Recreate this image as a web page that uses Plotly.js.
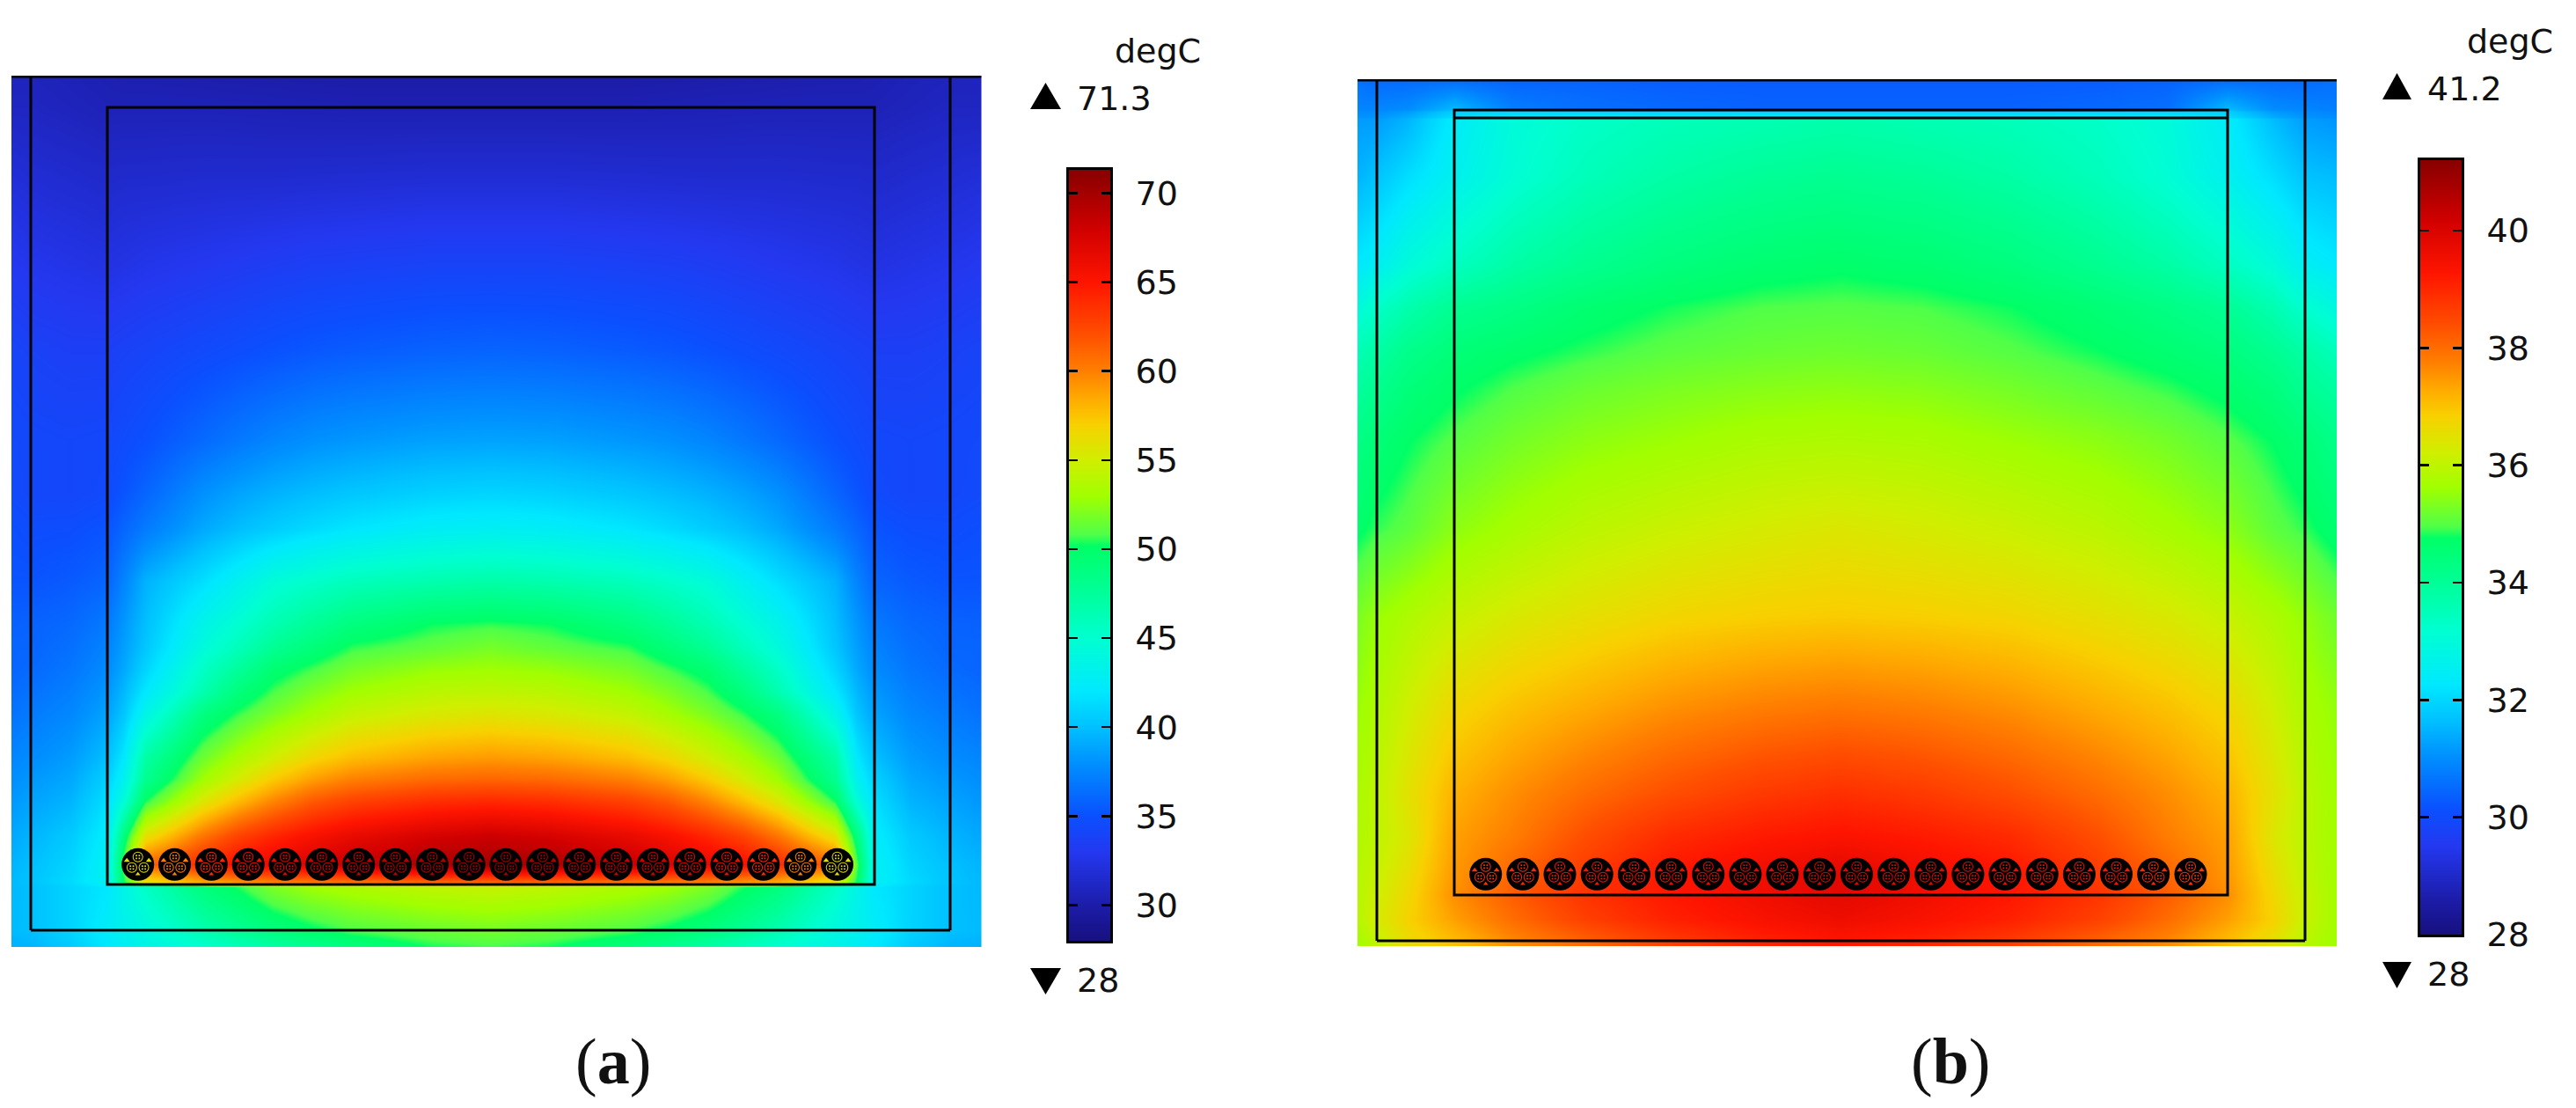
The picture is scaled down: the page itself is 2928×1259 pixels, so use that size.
<!DOCTYPE html>
<html><head><meta charset="utf-8">
<script src="https://cdn.plot.ly/plotly-3.0.1.min.js"></script>
<style>html,body{margin:0;padding:0;background:#fff}</style>
</head><body><div id="plot" style="width:2928px;height:1259px"></div>
<script>
// ---------- colour map (shared by both panels) ----------
const stopFractions = [0,.046,.115,.162,.231,.277,.323,.393,.462,.513,.527,.577,.624,.670,.704,.739,.785,.854,.924,1];
const stopColors = ['#17107f','#1c1ca8','#2438f0','#0a50ff','#0090ff','#00c0ff','#00e8ff','#00ffd0','#00ff90','#00ff66',
  '#50ff48','#a0ff00','#d0ee00','#f8d000','#ffaa00','#ff8000','#ff5000','#ff1500','#d00000','#880000'];

// ---------- panel (a): temperature field, degC ----------
const xA = [13,35,80,122,140,165,230,270,310,355,400,490,557,624,714,759,804,844,884,949,974,994,1034,1080,1115];
const yA = [86,122,200,300,400,500,560,600,660,710,735,760,785,810,860,885,910,950,982,1002,1008,1057,1076];
const tempA = [
[30.8,30.8,30.6,30.4,30.3,30.3,30.2,30.15,30.1,30.05,30,30,30,30,30,30.05,30.1,30.15,30.2,30.3,30.3,30.4,30.6,30.8,30.8],
[31,31,30.8,30.6,30.6,30.6,30.6,30.55,30.5,30.45,30.4,30.4,30.4,30.4,30.4,30.45,30.5,30.55,30.6,30.6,30.6,30.6,30.8,31,31],
[32,31.8,31.6,31.4,31.5,31.5,31.6,31.6,31.6,31.65,31.7,31.8,31.8,31.8,31.7,31.65,31.6,31.6,31.6,31.5,31.5,31.4,31.6,31.8,32],
[33,32.8,32.6,32.4,32.5,32.7,33,33.2,33.4,33.6,33.7,33.9,33.9,33.9,33.7,33.6,33.4,33.2,33,32.7,32.5,32.4,32.6,32.8,33],
[34,33.8,33.6,33.6,33.8,34,34.5,34.8,35.1,35.4,35.6,35.9,36,35.9,35.6,35.4,35.1,34.8,34.5,34,33.8,33.6,33.6,33.8,34],
[34.4,34.3,34.2,34.3,34.6,35,36.2,36.9,37.5,38,38.3,38.7,38.8,38.7,38.3,38,37.5,36.9,36.2,35,34.6,34.3,34.2,34.3,34.4],
[34.5,34.3,34.2,34.5,35.2,36,38,38.8,39.4,39.9,40.3,40.8,41,40.8,40.3,39.9,39.4,38.8,38,36,35.2,34.5,34.2,34.3,34.5],
[34.9,34.7,34.8,35.2,36,37,39,39.9,40.6,41.3,41.9,42.6,42.8,42.6,41.9,41.3,40.6,39.9,39,37,36,35.2,34.8,34.7,34.9],
[35.2,35.2,35.5,36,37.4,39.4,41.5,43,44.5,45.3,46,46.6,46.9,46.6,46,45.3,44.5,43,41.5,39.4,37.4,36,35.5,35.2,35.2],
[35.8,35.9,36.2,37,38.3,40,43.5,45,46.5,47.8,49,50.3,50.6,50.3,49,47.8,46.5,45,43.5,40,38.3,37,36.2,35.9,35.8],
[36,36,36.5,37.4,38.6,40.3,44.3,46,47.8,49.2,50.5,51.2,51.8,51.2,50.5,49.2,47.8,46,44.3,40.3,38.6,37.4,36.5,36,36],
[36,36.2,36.8,37.8,39,41,45.5,47.5,49.6,50.7,51.8,52.7,53,52.7,51.8,50.7,49.6,47.5,45.5,41,39,37.8,36.8,36.2,36],
[36.3,36.6,37.2,38.3,39.6,42,46.5,49,50.7,52,53,54,54.2,54,53,52,50.7,49,46.5,42,39.6,38.3,37.2,36.6,36.3],
[36.6,37,37.6,38.8,40.2,43.5,48.8,50.5,51.9,53.2,54.4,55.3,55.6,55.3,54.4,53.2,51.9,50.5,48.8,43.5,40.2,38.8,37.6,37,36.6],
[37.5,37.8,38.5,40,42,47,51.5,53.4,55,56.6,57.7,58.7,59,58.7,57.7,56.6,55,53.4,51.5,47,42,40,38.5,37.8,37.5],
[37.9,38.3,39,40.8,43,48,53,55.2,57.2,58.9,60,60.9,61.1,60.9,60,58.9,57.2,55.2,53,48,43,40.8,39,38.3,37.9],
[38.3,38.8,39.5,41.5,44.5,50.3,55.5,57.8,59.8,61.6,62.7,63.7,64,63.7,62.7,61.6,59.8,57.8,55.5,50.3,44.5,41.5,39.5,38.8,38.3],
[39,39.5,40.5,42.5,49,56,60.5,62.7,64.2,65.5,66.5,67.7,68.2,67.7,66.5,65.5,64.2,62.7,60.5,56,49,42.5,40.5,39.5,39],
[39.5,40,41,43,51,61,64,65.5,66.5,67.5,68.5,69.7,70,69.7,68.5,67.5,66.5,65.5,64,61,51,43,41,40,39.5],
[39.7,40.2,41.3,43,50,56,58.5,59.3,60,60.3,60.5,61,61,61,60.5,60.3,60,59.3,58.5,56,50,43,41.3,40.2,39.7],
[39.7,40,41,42,43.5,45.5,49,50.4,52,53,53.5,54.2,54.5,54.2,53.5,53,52,50.4,49,45.5,43.5,42,41,40,39.7],
[39.8,40,41,42.5,43.2,44,46.5,47.8,49,50,50.8,51.5,51.8,51.5,50.8,50,49,47.8,46.5,44,43.2,42.5,41,40,39.8],
[39.3,39.5,40.5,42,42.7,43.5,45,46,47,48,49,50.3,50.7,50.3,49,48,47,46,45,43.5,42.7,42,40.5,39.5,39.3]
];
const cableXA = [156.7,198.5,240.3,282.2,324,365.8,407.7,449.5,491.3,533.2,575,616.8,658.7,700.5,742.3,784.2,826,867.8,909.7,951.5];
const cableTempA = [56,60,64,66,67,68,68.5,69,69.5,70,70,69.5,69,68.5,68,67,66,64,60,56];

// ---------- panel (b): temperature field, degC ----------
const xB = [1543,1564,1600,1653,1720,1800,1900,2000,2092,2184,2284,2384,2464,2532,2584,2620,2656];
const yB = [90,124,127,133,135,200,300,350,400,440,500,600,700,800,900,950,993,1017,1045,1075];
const tempB = [
[30.6,30.5,30.5,30.5,30.4,30.4,30.3,30.3,30.3,30.3,30.3,30.3,30.4,30.5,30.5,30.5,30.6],
[30.9,30.9,31.0,31.6,30.8,30.6,30.5,30.4,30.4,30.4,30.4,30.5,30.6,31.6,31.0,30.9,30.8],
[31.0,31.0,31.2,31.9,32.0,32.0,32.0,32.0,32.0,32.0,32.0,32.0,32.0,31.9,31.2,31.0,30.9],
[31.1,31.1,31.4,32.1,32.3,32.3,32.3,32.3,32.3,32.3,32.3,32.3,32.3,32.1,31.4,31.1,31.0],
[31.2,31.2,31.5,32.4,33.0,33.3,33.5,33.6,33.7,33.6,33.5,33.3,33.0,32.4,31.6,31.2,31.1],
[31.5,31.7,32.1,32.6,33.1,33.5,33.8,34.0,34.1,34.0,33.8,33.5,33.1,32.6,32.1,31.7,31.6],
[32.3,32.5,33.0,33.4,33.8,34.1,34.4,34.6,34.7,34.6,34.4,34.1,33.8,33.4,33.0,32.5,32.3],
[33.0,33.3,33.7,34.1,34.3,34.6,34.82,34.96,35.0,34.95,34.8,34.55,34.3,34.05,33.65,33.2,32.9],
[33.6,33.8,34.2,34.5,34.7,34.87,35.05,35.15,35.2,35.15,35.0,34.8,34.6,34.4,34.1,33.8,33.5],
[33.9,34.1,34.45,34.72,34.95,35.15,35.3,35.4,35.45,35.4,35.25,35.05,34.87,34.65,34.4,34.05,33.85],
[34.3,34.5,34.75,35.0,35.25,35.45,35.6,35.75,35.8,35.75,35.6,35.45,35.25,35.0,34.75,34.5,34.2],
[34.7,34.87,35.05,35.45,35.7,35.95,36.15,36.3,36.4,36.3,36.15,35.95,35.7,35.45,35.05,34.87,34.6],
[35.3,35.55,35.8,36.1,36.35,36.55,36.75,36.85,36.9,36.85,36.75,36.55,36.35,36.1,35.8,35.5,35.2],
[35.55,35.8,36.2,36.7,37.0,37.25,37.55,37.75,37.85,37.75,37.55,37.25,37.0,36.7,36.2,35.75,35.5],
[35.75,36.0,36.5,37.2,37.6,38.0,38.4,38.7,38.85,38.7,38.4,38.0,37.6,37.2,36.5,35.95,35.6],
[35.8,36.0,36.4,37.4,37.8,38.4,38.95,39.2,39.35,39.2,38.95,38.4,37.8,37.4,36.4,35.95,35.65],
[35.9,36.1,36.6,37.5,38.1,38.7,39.3,39.6,39.85,39.6,39.3,38.7,38.1,37.5,36.6,36.0,35.65],
[35.9,36.2,36.7,37.6,38.2,38.8,39.25,39.55,39.8,39.55,39.25,38.8,38.2,37.6,36.7,36.1,35.65],
[35.9,36.3,36.8,37.4,38.0,38.6,39.1,39.4,39.6,39.4,39.1,38.6,38.0,37.4,36.8,36.1,35.65],
[35.6,36.0,36.6,37.0,37.6,38.0,38.6,39.0,39.2,39.0,38.6,38.0,37.6,37.0,36.5,35.9,35.6]
];
const cableXB = [1688.7,1730.9,1773,1815.2,1857.4,1899.5,1941.7,1983.9,2026,2068.2,2110.4,2152.5,2194.7,2236.9,2279,2321.2,2363.4,2405.5,2447.7,2490];
const cableTempB = [38.8,39,39.3,39.4,39.5,39.6,39.7,39.8,39.8,39.9,39.9,39.8,39.8,39.7,39.6,39.5,39.4,39.3,39,38.8];

// ---------- scale labels ----------
const ticksA = [30,35,40,45,50,55,60,65,70];
const ticksB = [28,30,32,34,36,38,40];
const unitLabel = 'degC';
const rangeA = [28,71.3];
const rangeB = [28,41.2];
const panelLabels = ['a','b'];

// ---------- helpers ----------
const W=2928,H=1259;
const px = v => v/W, py = v => 1-v/H;
const scale = stopFractions.map((f,i)=>[f,stopColors[i]]);
const FONT='DejaVu Sans';

function field(x,y,z,rng,xa,ya){
  return {type:'heatmap',x:x,y:y,z:z,zmin:rng[0],zmax:rng[1],colorscale:scale,zsmooth:'best',showscale:false,xaxis:xa,yaxis:ya,hoverinfo:'skip'};
}
function ramp(rng,xa,ya){
  const lv = stopFractions.map(f=>rng[0]+f*(rng[1]-rng[0]));
  return {type:'heatmap',x:[0,1],y:lv,z:lv.map(v=>[v,v]),zmin:rng[0],zmax:rng[1],colorscale:scale,zsmooth:'best',showscale:false,xaxis:xa,yaxis:ya,hoverinfo:'skip'};
}
function cables(cx,cy,temps,rng,xa,ya){
  const rep=(offs)=>{const X=[],Y=[],C=[];cx.forEach((x,i)=>offs.forEach(o=>{X.push(x+o[0]);Y.push(cy+o[1]);C.push(temps[i]);}));return {X,Y,C};};
  const base={type:'scatter',mode:'markers',xaxis:xa,yaxis:ya,hoverinfo:'skip',showlegend:false,cliponaxis:false};
  const cm=(c,o)=>Object.assign({color:c,cmin:rng[0],cmax:rng[1],colorscale:scale},o);
  const cores=[[0,-8.5],[-6.8,3.5],[6.8,3.5]];
  const r=rep(cores), wl=rep([[-12.5,-4.5]]), wr=rep([[12.5,-4.5]]), wb=rep([[0,11]]);
  return [
    Object.assign({},base,{x:cx,y:cx.map(()=>cy),marker:{symbol:'circle',size:37,color:'#000',line:{width:0}}}),
    Object.assign({},base,{x:r.X,y:r.Y,marker:cm(r.C,{symbol:'circle',size:12})}),
    Object.assign({},base,{x:r.X,y:r.Y,marker:{symbol:'circle',size:10,color:'#000'}}),
    Object.assign({},base,{x:r.X,y:r.Y,marker:cm(r.C,{symbol:'square',size:5})}),
    Object.assign({},base,{x:r.X,y:r.Y,marker:{symbol:'cross-thin',size:6,line:{width:1.6,color:'#000'}}}),
    Object.assign({},base,{x:wl.X,y:wl.Y,marker:cm(wl.C,{symbol:'triangle-up',size:6})}),
    Object.assign({},base,{x:wr.X,y:wr.Y,marker:cm(wr.C,{symbol:'triangle-up',size:6})}),
    Object.assign({},base,{x:wb.X,y:wb.Y,marker:cm(wb.C,{symbol:'triangle-up',size:5})})
  ];
}
function hidden(dom,rng,anchor){return {domain:dom,range:rng,visible:false,fixedrange:true,anchor:anchor};}
function barX(dom,anchor){return {domain:dom,range:[0,1],showgrid:false,zeroline:false,showticklabels:false,ticks:'',showline:true,mirror:true,linewidth:3,linecolor:'#000',anchor:anchor};}
function barY(dom,rng,ticks,anchor,standoff){return {domain:dom,range:rng,side:'right',anchor:anchor,tickmode:'array',tickvals:ticks,ticktext:ticks.map(String),
  ticks:'inside',ticklen:10,tickwidth:2.5,tickcolor:'#000',mirror:'ticks',showline:true,linewidth:3,linecolor:'#000',showgrid:false,zeroline:false,
  tickfont:{family:FONT,size:38,color:'#111'},ticklabelstandoff:standoff};}

const rect=(xr,yr,x0,y0,x1,y1,w)=>({type:'rect',xref:xr,yref:yr,x0,y0,x1,y1,line:{color:'#000',width:w||3},fillcolor:'rgba(0,0,0,0)',layer:'above'});
const segment=(xr,yr,x0,y0,x1,y1)=>({type:'line',xref:xr,yref:yr,x0,y0,x1,y1,line:{color:'#000',width:3},layer:'above'});
const tri=(xl,xr,ya,yb)=>{const xm=(xl+xr)/2;return {type:'path',xref:'paper',yref:'paper',fillcolor:'#000',line:{width:0},
  path:`M ${px(xl)} ${py(yb)} L ${px(xr)} ${py(yb)} L ${px(xm)} ${py(ya)} Z`};};
const label=(text,x,y,size,fam,anchor)=>({text,xref:'paper',yref:'paper',x:px(x),y:py(y),xanchor:anchor||'left',yanchor:'middle',showarrow:false,
  font:{family:fam||FONT,size:size||38,color:'#111'}});

const data=[
  field(xA,yA,tempA,rangeA,'x','y'),
  ...cables(cableXA,982.3,cableTempA,rangeA,'x','y'),
  field(xB,yB,tempB,rangeB,'x2','y2'),
  ...cables(cableXB,993.3,cableTempB,rangeB,'x2','y2'),
  ramp(rangeA,'x3','y3'),
  ramp(rangeB,'x4','y4')
];
const layout={
  width:W,height:H,margin:{l:0,r:0,t:0,b:0},paper_bgcolor:'#fff',plot_bgcolor:'#fff',showlegend:false,
  xaxis:hidden([px(13),px(1115.5)],[13,1115.5],'y'),
  yaxis:hidden([py(1076),py(86)],[1076,86],'x'),
  xaxis2:hidden([px(1543),px(2656)],[1543,2656],'y2'),
  yaxis2:hidden([py(1075),py(90)],[1075,90],'x2'),
  xaxis3:barX([px(1215),px(1262)],'y3'),
  yaxis3:barY([py(1069),py(193)],rangeA,ticksA,'x3',18),
  xaxis4:barX([px(2751),px(2798)],'y4'),
  yaxis4:barY([py(1062),py(182)],rangeB,ticksB,'x4',18),
  shapes:[
    rect('x','y',122,122,994,1005),
    segment('x','y',13,87,1115.5,87),
    segment('x','y',35,87,35,1057),
    segment('x','y',35,1057,1080,1057),
    segment('x','y',1080,87,1080,1057),
    rect('x2','y2',1653,125,2532,1017),
    segment('x2','y2',1653,134,2532,134),
    segment('x2','y2',1543,91,2656,91),
    segment('x2','y2',1565,91,1565,1069),
    segment('x2','y2',1565,1069,2620,1069),
    segment('x2','y2',2620,91,2620,1069),
    tri(1171,1206,94,124), tri(1171,1206,1130,1100),
    tri(2708,2741,83,113), tri(2708,2741,1123,1093)
  ],
  annotations:[
    label(unitLabel,1265,58),
    label(String(rangeA[1]),1222,112),
    label(String(rangeA[0]),1222,1114),
    label(unitLabel,2802,47),
    label(String(rangeB[1]),2757,101),
    label(String(rangeB[0]),2757,1107),
    label('(<b>'+panelLabels[0]+'</b>)',697,1206,74,'Liberation Serif','center'),
    label('(<b>'+panelLabels[1]+'</b>)',2217,1206,74,'Liberation Serif','center')
  ]
};
Plotly.newPlot('plot',data,layout,{displayModeBar:false,staticPlot:true});
</script></body></html>
